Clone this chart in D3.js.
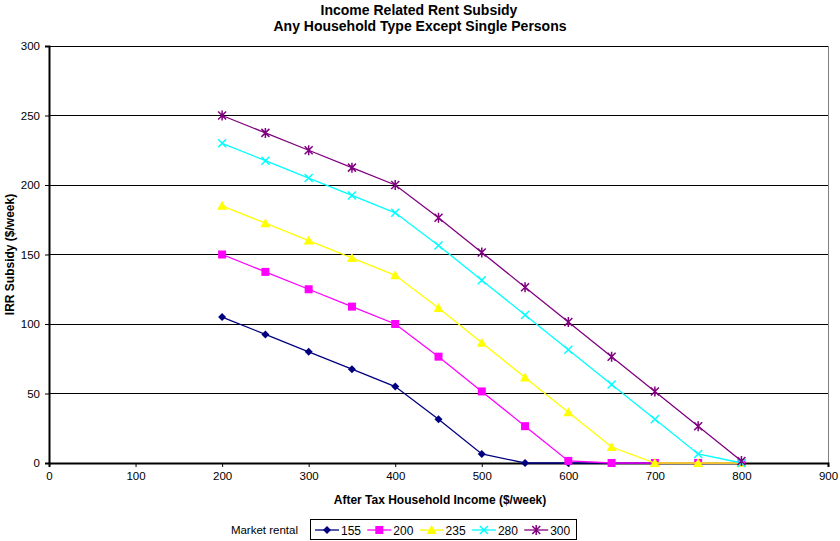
<!DOCTYPE html>
<html>
<head>
<meta charset="utf-8">
<script src="https://cdn.jsdelivr.net/npm/d3@7"></script>
<style>
  body { margin: 0; background: #fff; }
  text { font-family: "Liberation Sans", Arial, sans-serif; }
</style>
</head>
<body>
<svg width="840" height="541"></svg>
<script>
var incomes = [200, 250, 300, 350, 400, 450, 500, 550, 600, 650, 700, 750, 800];
var rentals = ["155", "200", "235", "280", "300"];
var sub155 = [105, 92.5, 80, 67.5, 55, 31.5, 6.5, 0, 0, 0, 0, 0, 0];
var sub200 = [150, 137.5, 125, 112.5, 100, 76.5, 51.5, 26.5, 1.5, 0, 0, 0, 0];
var sub235 = [185, 172.5, 160, 147.5, 135, 111.5, 86.5, 61.5, 36.5, 11.5, 0, 0, 0];
var sub280 = [230, 217.5, 205, 192.5, 180, 156.5, 131.5, 106.5, 81.5, 56.5, 31.5, 6.5, 0];
var sub300 = [250, 237.5, 225, 212.5, 200, 176.5, 151.5, 126.5, 101.5, 76.5, 51.5, 26.5, 1.5];
var xTicks = [0, 100, 200, 300, 400, 500, 600, 700, 800, 900];
var yTicks = [0, 50, 100, 150, 200, 250, 300];

var colors = ["#000080", "#FF00FF", "#FFFF00", "#00FFFF", "#800080"];
var markers = ["diamond", "square", "triangle", "x", "star"];

var series = [sub155, sub200, sub235, sub280, sub300].map(function (vals, i) {
    return {
        id: rentals[i],
        color: colors[i],
        marker: markers[i],
        values: vals.map(function (v, j) { return {x: incomes[j], y: v}; })
    };
});

var svg = d3.select("svg"),
    margin = {top: 46, right: 12, bottom: 78, left: 49},
    width = 840 - margin.left - margin.right,
    height = 541 - margin.top - margin.bottom,
    g = svg.append("g").attr("transform", "translate(" + margin.left + "," + margin.top + ")");

var scaleX = d3.scaleLinear().domain([0, 900]).range([0, width]),
    scaleY = d3.scaleLinear().domain([0, 300]).range([height, 0]);

// titles
svg.append("text").attr("x", 419).attr("y", 15).attr("text-anchor", "middle")
    .style("font-size", "14px").style("font-weight", "bold").text("Income Related Rent Subsidy");
svg.append("text").attr("x", 420).attr("y", 31).attr("text-anchor", "middle")
    .style("font-size", "14px").style("font-weight", "bold").text("Any Household Type Except Single Persons");

// gridlines
g.selectAll(".grid").data(yTicks.filter(function (d) { return d > 0 && d < 300; }))
    .enter().append("line")
    .attr("x1", 0).attr("x2", width)
    .attr("y1", function (d) { return scaleY(d); })
    .attr("y2", function (d) { return scaleY(d); })
    .attr("stroke", "#000").attr("stroke-width", 1).attr("shape-rendering", "crispEdges");

// plot border
g.append("rect").attr("width", width).attr("height", height)
    .attr("fill", "none").attr("stroke", "#808080").attr("shape-rendering", "crispEdges");
g.append("line").attr("x1", 0).attr("x2", width).attr("y1", 0).attr("y2", 0)
    .attr("stroke", "#000").attr("shape-rendering", "crispEdges");

// axes
var axisX = g.append("g").attr("transform", "translate(0," + height + ")")
    .call(d3.axisBottom(scaleX).tickValues(xTicks).tickSize(4).tickPadding(5));
var axisY = g.append("g")
    .call(d3.axisLeft(scaleY).tickValues(yTicks).tickSize(4).tickPadding(5));
[axisX, axisY].forEach(function (a) {
    a.select(".domain").attr("stroke", "#000").attr("stroke-width", 2);
    a.selectAll(".tick line").attr("stroke", "#000");
    a.selectAll(".tick text").style("font-size", "11.5px").attr("fill", "#000")
        .style("font-family", "'Liberation Sans', Arial, sans-serif");
});

svg.append("text").attr("x", 440).attr("y", 504).attr("text-anchor", "middle")
    .style("font-size", "12px").style("font-weight", "bold").text("After Tax Household Income ($/week)");
svg.append("text").attr("transform", "translate(14," + (margin.top + height / 2) + ") rotate(-90)")
    .attr("text-anchor", "middle")
    .style("font-size", "12px").style("font-weight", "bold").text("IRR Subsidy ($/week)");

// marker drawing
function drawMarker(sel, type, color) {
    if (type === "diamond") {
        sel.append("path").attr("d", "M0,-4L4,0L0,4L-4,0Z").attr("fill", color);
    } else if (type === "square") {
        sel.append("rect").attr("x", -4).attr("y", -4).attr("width", 8).attr("height", 8).attr("fill", color);
    } else if (type === "triangle") {
        sel.append("path").attr("d", "M0,-5L5,4L-5,4Z").attr("fill", color);
    } else if (type === "x") {
        sel.append("path").attr("d", "M-4,-4L4,4M-4,4L4,-4").attr("stroke", color).attr("stroke-width", 1.5);
    } else {
        sel.append("path").attr("d", "M-4,-4L4,4M-4,4L4,-4M0,-5L0,5").attr("stroke", color).attr("stroke-width", 1.5);
    }
}

var line = d3.line()
    .x(function (d) { return scaleX(d.x); })
    .y(function (d) { return scaleY(d.y); });

var lines = g.selectAll(".series").data(series).enter().append("g").attr("class", "series");
lines.append("path")
    .attr("d", function (d) { return line(d.values); })
    .attr("fill", "none")
    .attr("stroke", function (d) { return d.color; })
    .attr("stroke-width", 1.3);
lines.each(function (s) {
    d3.select(this).selectAll(".pt").data(s.values).enter().append("g")
        .attr("transform", function (d) { return "translate(" + scaleX(d.x) + "," + scaleY(d.y) + ")"; })
        .each(function () { drawMarker(d3.select(this), s.marker, s.color); });
});

// legend
var legend = svg.append("g");
legend.append("text").attr("x", 298).attr("y", 534).attr("text-anchor", "end")
    .style("font-size", "11.5px").text("Market rental");
legend.append("rect").attr("x", 310.5).attr("y", 519.5).attr("width", 266).attr("height", 20)
    .attr("fill", "#fff").attr("stroke", "#000");
var items = legend.selectAll(".item").data(series).enter().append("g")
    .attr("transform", function (d, i) { return "translate(" + (315 + i * 52.3) + ",530)"; });
items.append("line").attr("x1", 0).attr("x2", 24).attr("y1", 0).attr("y2", 0)
    .attr("stroke", function (d) { return d.color; }).attr("stroke-width", 1.3);
items.each(function (d) {
    var m = d3.select(this).append("g").attr("transform", "translate(12,0)");
    drawMarker(m, d.marker, d.color);
});
items.append("text").attr("x", 26).attr("y", 4.5).style("font-size", "12px")
    .text(function (d) { return d.id; });
</script>
</body>
</html>
